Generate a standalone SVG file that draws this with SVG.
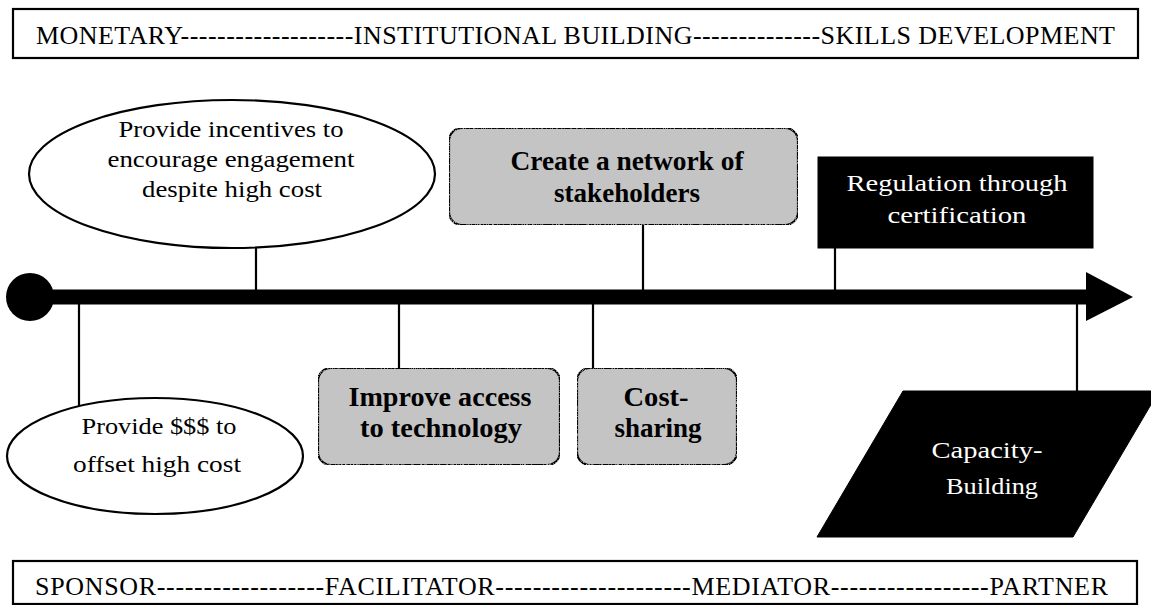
<svg xmlns="http://www.w3.org/2000/svg" width="1151" height="605" viewBox="0 0 1151 605">
  <style>
    .frame { fill: #ffffff; stroke: #000000; stroke-width: 2.2; }
    .band { font-family: "Liberation Serif", "Times New Roman", serif; font-size: 26px; fill: #000000; }
    .oval { fill: #ffffff; stroke: #000000; stroke-width: 2.2; }
    .oval-text { font-family: "Liberation Serif", "Times New Roman", serif; font-size: 23px; fill: #000000; text-anchor: middle; }
    .grey { fill: #c4c4c4; stroke: #000000; stroke-width: 2.2; }
    .grey-text { font-family: "Liberation Serif", "Times New Roman", serif; font-size: 27px; font-weight: bold; fill: #000000; text-anchor: middle; }
    .dark { fill: #000000; stroke: #000000; stroke-width: 1; }
    .dark-text { font-family: "Liberation Serif", "Times New Roman", serif; font-size: 24px; fill: #ffffff; text-anchor: middle; }
    .link { stroke: #000000; stroke-width: 2.2; fill: none; }
  </style>
  <defs>
    <!-- light speckle over the shaded boxes -->
    <filter id="grain" x="0" y="0" width="100%" height="100%">
      <feTurbulence type="fractalNoise" baseFrequency="1.1" numOctaves="1" seed="7" result="noise"/>
      <feColorMatrix in="noise" type="matrix" values="0 0 0 0 0.55  0 0 0 0 0.55  0 0 0 0 0.55  3 0 0 0 -1.55" result="speck"/>
      <feComposite in="speck" in2="SourceGraphic" operator="in" result="dots"/>
      <feMerge>
        <feMergeNode in="SourceGraphic"/>
        <feMergeNode in="dots"/>
      </feMerge>
    </filter>
  </defs>

  <rect width="1151" height="605" fill="#ffffff"/>

  <!-- scale bands -->
  <g id="top-band">
    <rect class="frame" x="13" y="9" width="1125" height="49"/>
    <text class="band" x="36" y="44" textLength="1079" lengthAdjust="spacing">MONETARY-------------------INSTITUTIONAL BUILDING--------------SKILLS DEVELOPMENT</text>
  </g>
  <g id="bottom-band">
    <rect class="frame" x="13" y="561" width="1124" height="43"/>
    <text class="band" x="35" y="595" textLength="1073" lengthAdjust="spacing">SPONSOR------------------FACILITATOR---------------------MEDIATOR-----------------PARTNER</text>
  </g>

  <!-- connectors: timeline axis and stems -->
  <g id="connectors">
    <line x1="30" y1="297" x2="1090" y2="297" stroke="#000000" stroke-width="15"/>
    <circle cx="30" cy="297" r="24" fill="#000000"/>
    <polygon points="1086,272 1133,297 1086,321" fill="#000000"/>
    <line class="link" x1="256" y1="248" x2="256" y2="291"/>
    <line class="link" x1="643" y1="225" x2="643" y2="291"/>
    <line class="link" x1="835" y1="248" x2="835" y2="291"/>
    <line class="link" x1="79" y1="303" x2="79" y2="406"/>
    <line class="link" x1="399" y1="303" x2="399" y2="368"/>
    <line class="link" x1="593" y1="303" x2="593" y2="368"/>
    <line class="link" x1="1077" y1="303" x2="1077" y2="391"/>
  </g>

  <g id="incentives">
    <ellipse class="oval" cx="232" cy="174" rx="203" ry="74"/>
    <text class="oval-text" x="231" y="137" textLength="225" lengthAdjust="spacingAndGlyphs">Provide incentives to</text>
    <text class="oval-text" x="231" y="167" textLength="247" lengthAdjust="spacingAndGlyphs">encourage engagement</text>
    <text class="oval-text" x="232" y="197" textLength="180" lengthAdjust="spacingAndGlyphs">despite high cost</text>
  </g>

  <g id="offset-cost">
    <ellipse class="oval" cx="155" cy="456" rx="148" ry="58"/>
    <text class="oval-text" x="159" y="434" textLength="155" lengthAdjust="spacingAndGlyphs">Provide $$$ to</text>
    <text class="oval-text" x="157" y="472" textLength="168" lengthAdjust="spacingAndGlyphs">offset high cost</text>
  </g>

  <g id="network">
    <rect class="grey" x="449" y="128" width="349" height="97" rx="13" filter="url(#grain)"/>
    <text class="grey-text" x="627" y="170" textLength="233" lengthAdjust="spacingAndGlyphs">Create a network of</text>
    <text class="grey-text" x="627" y="202" textLength="146" lengthAdjust="spacingAndGlyphs">stakeholders</text>
  </g>

  <g id="technology">
    <rect class="grey" x="318" y="368" width="242" height="97" rx="13" filter="url(#grain)"/>
    <text class="grey-text" x="440" y="406" textLength="183" lengthAdjust="spacingAndGlyphs">Improve access</text>
    <text class="grey-text" x="441" y="437" textLength="162" lengthAdjust="spacingAndGlyphs">to technology</text>
  </g>

  <g id="cost-sharing">
    <rect class="grey" x="577" y="368" width="160" height="97" rx="13" filter="url(#grain)"/>
    <text class="grey-text" x="656" y="406" textLength="65" lengthAdjust="spacingAndGlyphs">Cost-</text>
    <text class="grey-text" x="658" y="437" textLength="87" lengthAdjust="spacingAndGlyphs">sharing</text>
  </g>

  <g id="regulation">
    <rect class="dark" x="818" y="157" width="275" height="91"/>
    <text class="dark-text" x="957" y="191" textLength="221" lengthAdjust="spacingAndGlyphs">Regulation through</text>
    <text class="dark-text" x="957" y="223" textLength="139" lengthAdjust="spacingAndGlyphs">certification</text>
  </g>

  <g id="capacity">
    <polygon class="dark" points="903,391 1159,391 1073,537 817,537"/>
    <text class="dark-text" x="987" y="458" textLength="111" lengthAdjust="spacingAndGlyphs">Capacity-</text>
    <text class="dark-text" x="992" y="494" textLength="92" lengthAdjust="spacingAndGlyphs">Building</text>
  </g>
</svg>
